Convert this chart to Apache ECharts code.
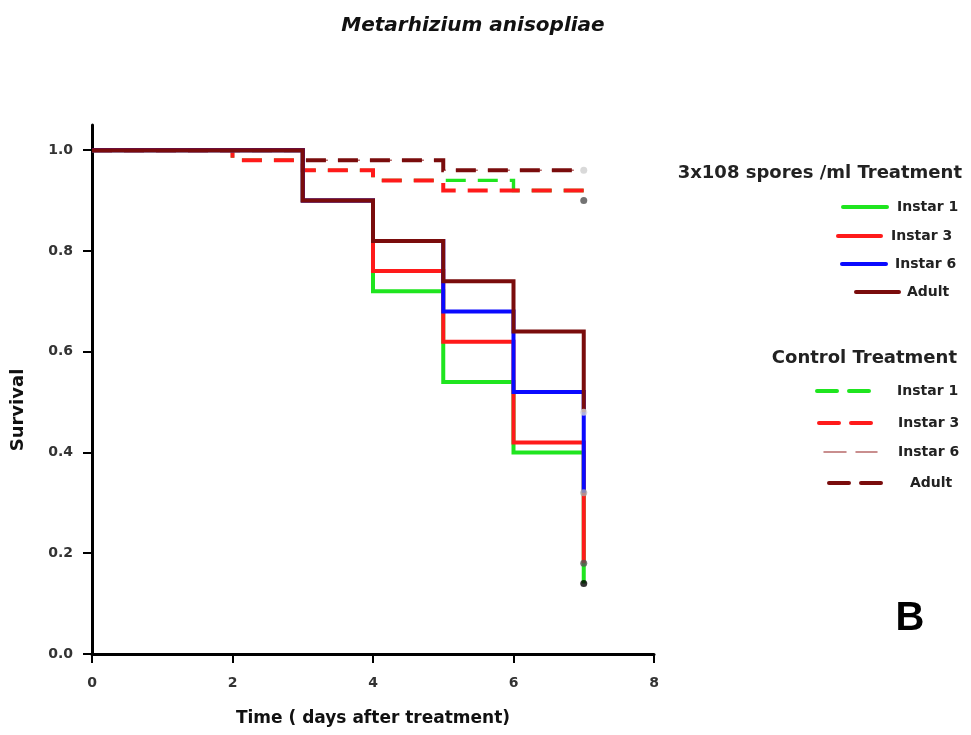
<!DOCTYPE html>
<html>
<head>
<meta charset="utf-8">
<style>
  html, body { margin: 0; padding: 0; background: #fff; }
  #chart { width: 971px; height: 735px; }
</style>
<script src="https://cdn.jsdelivr.net/npm/echarts@6/dist/echarts.min.js"></script>
</head>
<body>
<div id="chart"></div>
<script>
// survival data, [day, survival]
var trtInstar1 = [[0, 1], [3, 0.90], [4, 0.72], [5, 0.54], [6, 0.40], [7, 0.14]];
var trtInstar3 = [[0, 1], [3, 0.90], [4, 0.76], [5, 0.62], [6, 0.42], [7, 0.18]];
var trtInstar6 = [[0, 1], [3, 0.90], [4, 0.82], [5, 0.68], [6, 0.52], [7, 0.32]];
var trtAdult   = [[0, 1], [3, 0.90], [4, 0.82], [5, 0.74], [6, 0.64], [7, 0.48]];

var ctlInstar1 = [[0, 1], [2, 0.98], [3, 0.96], [4, 0.94], [6, 0.92], [7, 0.92]];
var ctlInstar3 = [[0, 1], [2, 0.98], [3, 0.96], [4, 0.94], [5, 0.92], [7, 0.92], [7, 0.90]];
var ctlInstar6 = [[0, 1], [3, 0.98], [5, 0.96], [7, 0.96]];
var ctlAdult   = [[0, 1], [3, 0.98], [5, 0.96], [7, 0.96]];

// censored marks at the end of follow-up
var censorPoints = [[7, 0.96], [7, 0.90], [7, 0.48], [7, 0.32], [7, 0.18], [7, 0.14]];
var censorColors = ['#d0d0d0', '#505050', '#d8d8d8', '#a8a8a8', '#555555', '#000000'];

var xTicks = [0, 2, 4, 6, 8];
var yTicks = [0, 0.2, 0.4, 0.6, 0.8, 1.0];

var groupNames = ['3x108 spores /ml Treatment', 'Control Treatment'];
var itemNames = ['Instar 1', 'Instar 3', 'Instar 6', 'Adult'];

var GREEN = '#1fe51f', RED = '#ff1a1a', BLUE = '#0a0aff', BROWN = '#7a0c0c', ROSE = '#b86a6a';
var FONT = '"DejaVu Sans", Verdana, sans-serif';

var chart = echarts.init(document.getElementById('chart'));

function stepLine(name, data, color, width, dash) {
    return {
        name: name,
        type: 'line',
        step: 'end',
        data: data,
        symbol: 'none',
        silent: true,
        lineStyle: { color: color, width: width, type: dash || 'solid', cap: 'butt', join: 'miter' },
        z: 2
    };
}

//  legend drawn with graphic elements
var legendGraphic = [];
var solidRows = [
    { y: 207, x1: 843, x2: 887, tx: 897, color: GREEN, w: 4, dash: null },
    { y: 236, x1: 838, x2: 881, tx: 891, color: RED, w: 4, dash: null },
    { y: 264, x1: 842, x2: 886, tx: 895, color: BLUE, w: 4, dash: null },
    { y: 292, x1: 856, x2: 899, tx: 907, color: BROWN, w: 4, dash: null }
];
var dashRows = [
    { y: 391, x1: 817, x2: 870, tx: 897, color: GREEN, w: 4, dash: [20, 12] },
    { y: 423, x1: 819, x2: 872, tx: 898, color: RED, w: 4, dash: [20, 12] },
    { y: 452, x1: 824, x2: 877, tx: 898, color: ROSE, w: 1.5, dash: [22, 10] },
    { y: 483, x1: 829, x2: 882, tx: 910, color: BROWN, w: 4, dash: [20, 12] }
];

legendGraphic.push({
    type: 'text', x: 962, y: 173,
    style: { text: groupNames[0], font: 'bold 18px ' + FONT, fill: '#222', align: 'right', verticalAlign: 'middle' }
});
legendGraphic.push({
    type: 'text', x: 957, y: 358,
    style: { text: groupNames[1], font: 'bold 18px ' + FONT, fill: '#222', align: 'right', verticalAlign: 'middle' }
});
solidRows.concat(dashRows).forEach(function (r, i) {
    var line = { stroke: r.color, lineWidth: r.w, lineCap: 'round' };
    if (r.dash) { line.lineDash = r.dash; }
    legendGraphic.push({
        type: 'line', shape: { x1: r.x1, y1: r.y, x2: r.x2, y2: r.y },
        style: line
    });
    legendGraphic.push({
        type: 'text', x: r.tx, y: r.y,
        style: { text: itemNames[i % 4], font: 'bold 14px ' + FONT, fill: '#222', align: 'left', verticalAlign: 'middle' }
    });
});
legendGraphic.push({
    type: 'text', x: 910, y: 619,
    style: { text: 'B', font: 'bold 40px "Liberation Sans", Arial', fill: '#000', align: 'center', verticalAlign: 'middle' }
});
legendGraphic.push({
    type: 'text', x: 18, y: 410, rotation: Math.PI / 2,
    style: { text: 'Survival', font: 'bold 18px ' + FONT, fill: '#111', align: 'center', verticalAlign: 'middle' }
});

var option = {
    animation: false,
    backgroundColor: '#fff',
    title: {
        text: 'Metarhizium anisopliae',
        left: 468,
        top: 11,
        textAlign: 'center',
        textStyle: { fontFamily: 'DejaVu Sans', fontStyle: 'italic', fontWeight: 'bold', fontSize: 20, color: '#111' }
    },
    grid: { left: 92, right: 317, top: 125, bottom: 81, containLabel: false, outerBoundsMode: 'none' },
    xAxis: {
        type: 'value',
        min: 0,
        max: 8,
        interval: 2,
        name: 'Time ( days after treatment)',
        nameLocation: 'middle',
        nameGap: 56,
        nameTextStyle: { fontFamily: 'DejaVu Sans', fontWeight: 'bold', fontSize: 17, color: '#111' },
        axisLine: { onZero: false, lineStyle: { color: '#000', width: 3 } },
        axisTick: { show: true, inside: false, length: 9, lineStyle: { color: '#000', width: 2 }, customValues: xTicks },
        axisLabel: { margin: 22, fontFamily: 'DejaVu Sans', fontWeight: 'bold', fontSize: 14, color: '#333', customValues: xTicks },
        splitLine: { show: false }
    },
    yAxis: {
        type: 'value',
        min: 0,
        max: 1.05,
        axisLine: { show: true, onZero: false, lineStyle: { color: '#000', width: 3 } },
        axisTick: { show: true, inside: false, length: 9, lineStyle: { color: '#000', width: 2 }, customValues: yTicks },
        axisLabel: {
            margin: 19, fontFamily: 'DejaVu Sans', fontWeight: 'bold', fontSize: 14, color: '#333',
            customValues: yTicks,
            formatter: function (v) { return v.toFixed(1); }
        },
        splitLine: { show: false }
    },
    graphic: legendGraphic,
    series: [
        stepLine('Control Instar 6', ctlInstar6, ROSE, 1.5, [22, 10]),
        stepLine('Control Instar 1', ctlInstar1, GREEN, 3.4, [20, 12]),
        stepLine('Control Instar 3', ctlInstar3, RED, 4, [20, 12]),
        stepLine('Control Adult', ctlAdult, BROWN, 4, [20, 12]),
        stepLine('Instar 1', trtInstar1, GREEN, 4),
        stepLine('Instar 3', trtInstar3, RED, 4),
        stepLine('Instar 6', trtInstar6, BLUE, 4),
        stepLine('Adult', trtAdult, BROWN, 4),
        {
            name: 'censored',
            type: 'scatter',
            symbol: 'circle',
            symbolSize: 7,
            silent: true,
            z: 3,
            data: censorPoints.map(function (p, i) {
                return { value: p, itemStyle: { color: censorColors[i] } };
            })
        }
    ]
};
chart.setOption(option);
</script>
</body>
</html>
